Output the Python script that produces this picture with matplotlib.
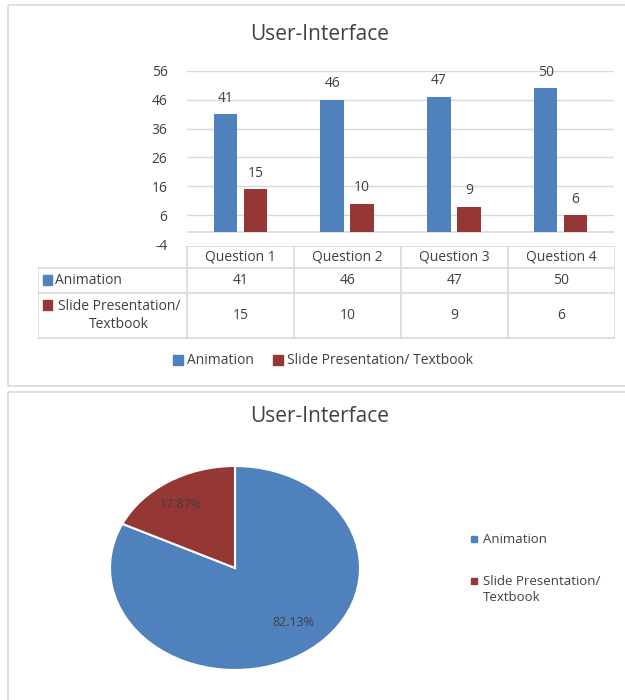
import matplotlib.pyplot as plt
import numpy as np
from matplotlib.patches import Rectangle

plt.rcParams['font.family'] = ['Open Sans', 'DejaVu Sans']
plt.rcParams['axes.unicode_minus'] = False

questions = ["Question 1", "Question 2", "Question 3", "Question 4"]
animation = [41, 46, 47, 50]
slides = [15, 10, 9, 6]
series_names = ["Animation", "Slide Presentation/ Textbook"]
table_labels = ["Animation", "Slide Presentation/\nTextbook"]
pie_pct = [82.13, 17.87]
pie_legend = ["Animation", "Slide Presentation/\nTextbook"]
yticks = [-4, 6, 16, 26, 36, 46, 56]

blue = "#4F81BD"
red = "#953735"
grid = "#D9D9D9"
txt = "#404040"
fs = 10

W, H = 625, 700
fig = plt.figure(figsize=(6.25, 7), dpi=100)


def px_axes(x0, y0, x1, y1):
    # pixel box (top-left origin) -> figure axes
    return fig.add_axes([x0 / W, 1 - y1 / H, (x1 - x0) / W, (y1 - y0) / H])


# frames
frame = fig.add_axes([0, 0, 1, 1])
frame.set_xlim(0, W)
frame.set_ylim(H, 0)
frame.axis('off')
frame.add_patch(Rectangle((8, 5), 640, 381, fill=False, ec="#D9D9D9", lw=1.2))
frame.add_patch(Rectangle((8, 392), 640, 340, fill=False, ec="#D9D9D9", lw=1.2))

fig.text(320 / W, 1 - 35 / H, "User-Interface", ha='center', va='center',
         fontsize=15, color=txt)

# bar chart
ax = px_axes(187, 71, 614, 244)
x = np.arange(len(questions))
bw = 0.22
ax.bar(x - 0.14, animation, bw, color=blue, zorder=3)
ax.bar(x + 0.14, slides, bw, color=red, zorder=3)
for i in range(len(questions)):
    ax.text(x[i] - 0.14, animation[i] + 3, str(animation[i]), ha='center',
            va='bottom', fontsize=fs, color=txt)
    ax.text(x[i] + 0.14, slides[i] + 3, str(slides[i]), ha='center',
            va='bottom', fontsize=fs, color=txt)
ax.set_xlim(-0.5, len(questions) - 0.5)
ax.set_ylim(-4, 56)
ax.set_yticks(yticks)
ax.set_xticks([])
ax.tick_params(axis='y', length=0, labelsize=fs, labelcolor=txt, pad=14)
ax.yaxis.grid(True, color=grid, lw=1)
ax.axhline(0, color=grid, lw=1.2, zorder=2)
for s in ax.spines.values():
    s.set_visible(False)

# data table
tb = px_axes(38, 246, 615, 339)
tb.set_xlim(0, 577)
tb.set_ylim(93, 0)
tb.axis('off')
lab_w = 149
col_w = (577 - lab_w) / len(questions)
rows = [0, 22, 47, 92]
lc = "#D9D9D9"
# horizontal lines
tb.plot([lab_w, 577], [rows[0], rows[0]], color=lc, lw=1.2)
for r in rows[1:]:
    tb.plot([0, 577], [r, r], color=lc, lw=1.2)
# vertical lines
tb.plot([0, 0], [rows[1], rows[3]], color=lc, lw=1.2)
for j in range(len(questions) + 1):
    xx = lab_w + j * col_w
    tb.plot([xx, xx], [rows[0], rows[3]], color=lc, lw=1.2)
for j, q in enumerate(questions):
    cx = lab_w + (j + 0.5) * col_w
    tb.text(cx, (rows[0] + rows[1]) / 2, q, ha='center', va='center',
            fontsize=fs, color=txt)
    tb.text(cx, (rows[1] + rows[2]) / 2, str(animation[j]), ha='center',
            va='center', fontsize=fs, color=txt)
    tb.text(cx, (rows[2] + rows[3]) / 2, str(slides[j]), ha='center',
            va='center', fontsize=fs, color=txt)
tb.add_patch(Rectangle((5, 29), 9, 10, color=blue))
tb.text(17, (rows[1] + rows[2]) / 2, table_labels[0], ha='left', va='center',
        fontsize=fs, color=txt)
tb.add_patch(Rectangle((5, 54), 9, 10, color=red))
tb.text(81, (rows[2] + rows[3]) / 2, table_labels[1], ha='center',
        va='center', fontsize=fs, color=txt, linespacing=1.35)

# bar legend
leg_handles = [Rectangle((0, 0), 1, 1, color=blue),
               Rectangle((0, 0), 1, 1, color=red)]
fig.legend(leg_handles, series_names, loc='center', ncol=2,
           bbox_to_anchor=(323 / W, 1 - 361 / H), frameon=False,
           fontsize=fs, labelcolor=txt, handlelength=0.7, handleheight=0.7,
           handletextpad=0.3, columnspacing=1.4)

# pie chart
fig.text(320 / W, 1 - 417 / H, "User-Interface", ha='center', va='center',
         fontsize=15, color=txt)
pa = px_axes(110, 466, 360, 670)
wedges, texts = pa.pie(pie_pct, colors=[blue, red], startangle=90,
                       counterclock=False,
                       wedgeprops=dict(edgecolor='white', linewidth=1.5))
pa.set_aspect('auto')
pa.set_xlim(-1, 1)
pa.set_ylim(-1, 1)
pa.text(0.47, -0.53, "%.2f%%" % pie_pct[0], ha='center', va='center',
        fontsize=9, color=txt)
pa.text(-0.43, 0.62, "%.2f%%" % pie_pct[1], ha='center', va='center',
        fontsize=9, color=txt)

# pie legend, markers aligned with the first text line
for k, (lab, c) in enumerate(zip(pie_legend, [blue, red])):
    ly = 539 + 42 * k
    frame.add_patch(Rectangle((471, ly - 3), 6, 6, color=c))
    frame.text(483, ly - 6, lab, ha='left', va='top', fontsize=9.5,
               color=txt, linespacing=1.3)

fig.savefig("out.png", dpi=100)
